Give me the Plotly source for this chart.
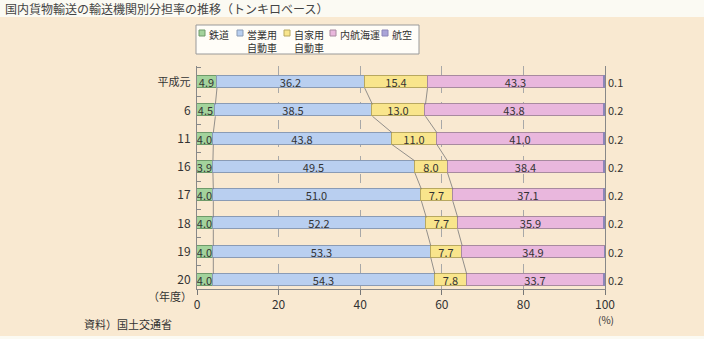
import plotly.graph_objects as go

# ---- data ----
years = ["平成元", "6", "11", "16", "17", "18", "19", "20"]
rail = [4.9, 4.5, 4.0, 3.9, 4.0, 4.0, 4.0, 4.0]
truck_business = [36.2, 38.5, 43.8, 49.5, 51.0, 52.2, 53.3, 54.3]
truck_private = [15.4, 13.0, 11.0, 8.0, 7.7, 7.7, 7.7, 7.8]
coastal = [43.3, 43.8, 41.0, 38.4, 37.1, 35.9, 34.9, 33.7]
air = [0.1, 0.2, 0.2, 0.2, 0.2, 0.2, 0.2, 0.2]
series_names = ["鉄道", "営業用<br>自動車", "自家用<br>自動車", "内航海運", "航空"]
x_ticks = [0, 20, 40, 60, 80, 100]

FONT = "Noto Sans CJK JP"
colors = ["#a3d39c", "#b9cff0", "#f9e58c", "#e9b7dd", "#aaa4d8"]
borders = ["#6f9a6a", "#8a9bb5", "#b8a860", "#a88a9f", "#8c86b8"]
BAR_W = 0.42

# plot-area pixel geometry (for paper coords of decorations)
L, R, T, B = 197, 605, 66, 289
def px(xp):
    return (xp - L) / (R - L)
def py(yp):
    return (B - yp) / (B - T)

ypos = list(range(len(years)))
series = [rail, truck_business, truck_private, coastal, air]

fig = go.Figure()
for i, vals in enumerate(series):
    fig.add_trace(go.Bar(
        x=vals, y=ypos, orientation="h", width=BAR_W,
        marker=dict(color=colors[i], line=dict(color=borders[i], width=1)),
        text=[f"{v:.1f}" for v in vals] if i < 4 else None,
        textposition="inside" if i < 4 else "none",
        insidetextanchor="middle", textangle=0,
        textfont=dict(size=11, color="#333", family=FONT),
        showlegend=False, hoverinfo="skip",
    ))

# connector lines between segment boundaries of consecutive bars
cum = []
for k in range(len(years)):
    c1 = rail[k]
    c2 = c1 + truck_business[k]
    c3 = c2 + truck_private[k]
    cum.append([c1, c2, c3])
cx, cy = [], []
for b in range(3):
    for k in range(len(years) - 1):
        cx += [cum[k][b], cum[k + 1][b], None]
        cy += [k + BAR_W / 2, k + 1 - BAR_W / 2, None]
fig.add_trace(go.Scatter(x=cx, y=cy, mode="lines",
                         line=dict(color="#777", width=0.8),
                         showlegend=False, hoverinfo="skip"))

shapes = [
    # beige panel
    dict(type="rect", xref="paper", yref="paper", x0=px(0), x1=px(704),
         y0=py(336), y1=py(17), fillcolor="#f9e9d1", line=dict(width=0),
         layer="below"),
    # legend box
    dict(type="rect", xref="paper", yref="paper", x0=px(196), x1=px(419),
         y0=py(54), y1=py(25), fillcolor="#fffdf8",
         line=dict(color="#999", width=1), layer="below"),
]
annotations = []
leg_sq_x = [202, 240, 287, 333, 385]
for i, name in enumerate(series_names):
    sx = leg_sq_x[i]
    shapes.append(dict(type="rect", xref="paper", yref="paper",
                       x0=px(sx - 3), x1=px(sx + 3), y0=py(36), y1=py(30),
                       fillcolor=colors[i], line=dict(color=borders[i], width=1)))
    annotations.append(dict(xref="paper", yref="paper", x=px(sx + 6), y=py(26),
                            xanchor="left", yanchor="top", text=name, showarrow=False,
                            align="center", borderpad=0,
                            font=dict(size=10, color="#333", family=FONT)))

# air values to the right of the bars
for k, v in enumerate(air):
    annotations.append(dict(xref="x", yref="y", x=100, y=k, xanchor="left", yanchor="middle",
                            xshift=1, text=f"{v:.1f}", showarrow=False,
                            font=dict(size=11, color="#333", family=FONT)))

annotations += [
    dict(xref="paper", yref="paper", x=px(3), y=py(9), xanchor="left", yanchor="middle",
         text="国内貨物輸送の輸送機関別分担率の推移（トンキロベース）", showarrow=False,
         font=dict(size=12, color="#444", family=FONT)),
    dict(xref="paper", yref="paper", x=px(194), y=py(296), xanchor="right", yanchor="middle",
         text="（年度）", showarrow=False, font=dict(size=11, color="#333", family=FONT)),
    dict(xref="paper", yref="paper", x=px(606), y=py(319), xanchor="center", yanchor="middle",
         text="(%)", showarrow=False, font=dict(size=10, color="#333", family=FONT)),
    dict(xref="paper", yref="paper", x=px(82), y=py(324), xanchor="left", yanchor="middle",
         text="資料）国土交通省", showarrow=False, font=dict(size=11, color="#333", family=FONT)),
]

ticktext = [f'<span style="font-size:11px">{y}</span>' if not y.isdigit() else y for y in years]

fig.update_layout(
    width=704, height=339,
    margin=dict(l=L, r=704 - R, t=T, b=339 - B, pad=0),
    paper_bgcolor="#fbfaf3", plot_bgcolor="rgba(0,0,0,0)",
    barmode="stack", bargap=0,
    font=dict(family=FONT, color="#333"),
    uniformtext=dict(mode="show", minsize=11),
    shapes=shapes, annotations=annotations,
    xaxis=dict(range=[0, 100], tickvals=x_ticks, ticks="outside", ticklen=5,
               tickcolor="#777", showline=True, linecolor="#888", linewidth=1,
               showgrid=True, gridcolor="#a8a8a8", griddash="dash", gridwidth=1,
               zeroline=False, tickfont=dict(size=12, color="#333", family=FONT)),
    yaxis=dict(range=[7.32, -0.57], tickvals=ypos, ticktext=ticktext, ticks="",
               showline=True, mirror=True, linecolor="#888", linewidth=1,
               showgrid=False, zeroline=False, ticklabelstandoff=3,
               minor=dict(tickvals=[k + 0.5 for k in range(-1, len(years))],
                          ticks="inside", ticklen=4, tickcolor="#888"),
               tickfont=dict(size=12, color="#333", family=FONT)),
)

fig.write_html("out.html")
